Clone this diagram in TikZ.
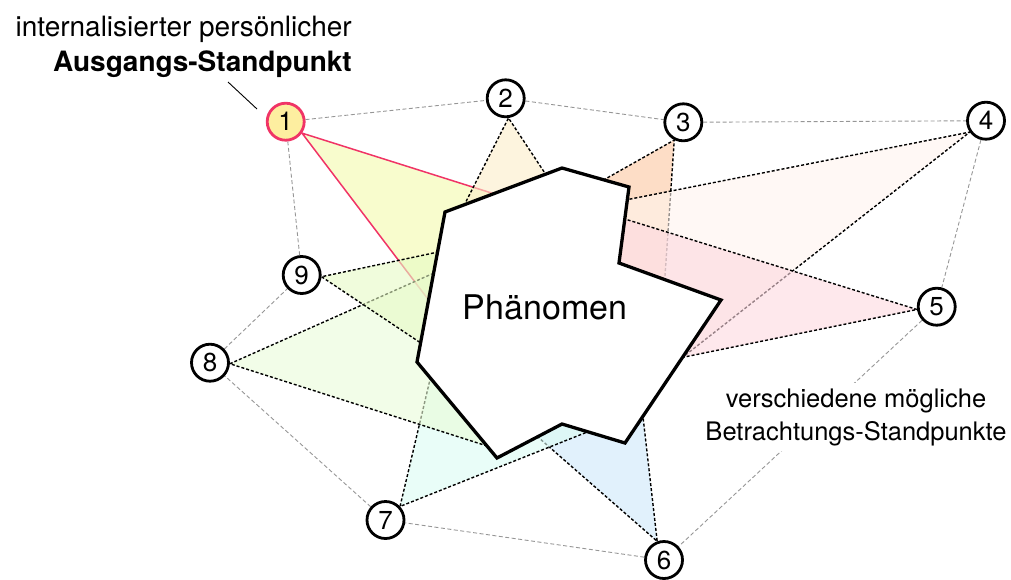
\documentclass[tikz,border=0pt]{standalone}
\usepackage{fontspec}
\setmainfont{TeX Gyre Heros}
\usetikzlibrary{calc}
\pgfdeclarelayer{cones}
\pgfsetlayers{cones,main}

\definecolor{ringgray}{RGB}{150,150,150}
\definecolor{startpink}{RGB}{240,52,102}
\definecolor{startfill}{RGB}{253,238,160}
\definecolor{cone1}{RGB}{243,250,172}
\definecolor{cone2}{RGB}{252,236,200}
\definecolor{cone3}{RGB}{252,199,160}
\definecolor{cone4}{RGB}{255,244,238}
\definecolor{cone5}{RGB}{253,216,224}
\definecolor{cone6}{RGB}{205,232,250}
\definecolor{cone7}{RGB}{219,252,243}
\definecolor{cone8}{RGB}{234,252,216}
\definecolor{cone9}{RGB}{230,250,197}

\tikzset{
  viewpt/.style={circle, draw=black, line width=2.8pt, fill=white,
    minimum size=37pt, inner sep=0pt, font=\fontsize{26}{26}\selectfont},
  startpt/.style={viewpt, draw=startpink, fill=startfill},
  ring/.style={draw=ringgray, line width=0.9pt, dash pattern=on 4pt off 2.5pt},
  coneedge/.style={draw=black, line width=1.4pt, dash pattern=on 3pt off 2pt},
  startedge/.style={draw=startpink, line width=1.5pt},
  conefill/.style={fill opacity=0.6},
  phenom/.style={draw=black, line width=3.3pt, fill=white, line join=miter},
  headtext/.style={font=\fontsize{28}{28}\selectfont, inner sep=0pt},
  notetext/.style={font=\fontsize{25.5}{25.5}\selectfont, fill=white, inner sep=5pt},
  leader/.style={draw=black, line width=0.9pt},
}

% a viewing cone: node, border angle, two far corners, fill colour, edge style
\newcommand\viewcone[6]{%
  \fill[conefill, fill=#5] (#1.#2) -- #3 -- #4 -- cycle;
  \draw[#6] #3 -- (#1.#2) -- #4;
}

\begin{document}
\begin{tikzpicture}[x=1pt,y=-1pt]
\useasboundingbox (0,0) rectangle (1011,579);

% viewpoints
\node[startpt] (n1) at (285.7,121.7) {1};
\node[viewpt]  (n2) at (505.7,98.3)  {2};
\node[viewpt]  (n3) at (683.3,122.3) {3};
\node[viewpt]  (n4) at (986,120.7)   {4};
\node[viewpt]  (n5) at (936.7,306.7) {5};
\node[viewpt]  (n6) at (664,560)     {6};
\node[viewpt]  (n7) at (385.5,520)   {7};
\node[viewpt]  (n8) at (210,362.7)   {8};
\node[viewpt]  (n9) at (301.7,275)   {9};

\begin{pgfonlayer}{cones}
  % ring of neighbouring viewpoints
  \foreach \a/\b in {1/2,2/3,3/4,4/5,5/6,6/7,7/8,8/9,9/1}
    \draw[ring] (n\a) -- (n\b);
  % cones of view onto the phenomenon
  \viewcone{n1}{-35}{(520,202)}{(462,344)}{cone1}{startedge}
  \viewcone{n2}{-82}{(448,237)}{(566,205)}{cone2}{coneedge}
  \viewcone{n3}{-117}{(577,195)}{(662,320)}{cone3}{coneedge}
  \viewcone{n4}{215}{(600,205)}{(660,375)}{cone4}{coneedge}
  \viewcone{n5}{188}{(599,211)}{(655,363)}{cone5}{coneedge}
  \viewcone{n6}{110}{(507,410)}{(638,373)}{cone6}{coneedge}
  \viewcone{n7}{43}{(441,333)}{(615,421)}{cone7}{coneedge}
  \viewcone{n8}{-3}{(474.7,254.9)}{(495,448.5)}{cone8}{coneedge}
  \viewcone{n9}{-5}{(473,244.6)}{(450.6,362.9)}{cone9}{coneedge}
\end{pgfonlayer}

% the phenomenon
\draw[phenom] (445,212) -- (562,168) -- (629,187) -- (619,263) -- (721,300)
  -- (625,443) -- (562,424) -- (497,458) -- (417,362) -- cycle;
\node[font=\fontsize{34}{34}\selectfont, inner sep=0pt, anchor=base] (phen) at (545,319) {Phänomen};

% caption of the starting viewpoint
\node[headtext, anchor=base east] (head1) at (352,36) {internalisierter persönlicher};
\node[headtext, anchor=base east, font=\fontsize{28}{28}\selectfont\bfseries] (head2) at (352,71) {Ausgangs-Standpunkt};
\coordinate (leadA) at (228,82);
\coordinate (leadB) at (257,109);
\draw[leader] (leadA) -- (leadB);

% caption of the other viewpoints
\node[notetext, anchor=base] (note1) at (856,407) {verschiedene mögliche};
\node[notetext, anchor=base] (note2) at (856,440) {Betrachtungs-Standpunkte};
\end{tikzpicture}
\end{document}
